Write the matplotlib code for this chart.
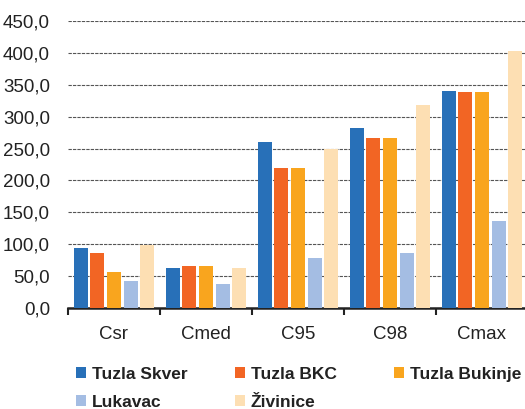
import matplotlib
matplotlib.use('Agg')
import matplotlib.pyplot as plt
import numpy as np

plt.rcParams['font.family'] = ['Liberation Sans', 'DejaVu Sans']

categories = ['Csr', 'Cmed', 'C95', 'C98', 'Cmax']
stations = ['Tuzla Skver', 'Tuzla BKC', 'Tuzla Bukinje', 'Lukavac', 'Živinice']
skver = [94, 63, 260, 283, 341]
bkc = [86, 66, 220, 267, 339]
bukinje = [56, 66, 220, 267, 339]
lukavac = [42, 38, 78, 86, 137]
zivinice = [99, 63, 249, 318, 403]
colors = ['#2870b8', '#f26524', '#f9a51e', '#a4bde3', '#fddfb3']
yticks = np.arange(0, 451, 50)

series = [skver, bkc, bukinje, lukavac, zivinice]

fig = plt.figure(figsize=(5.25, 4.09), dpi=100)
ax = fig.add_axes([68/525, 1-308/409, 460/525, 287/409])

x = np.arange(len(categories))
slot = 0.181
bars = []
for i, (vals, name, c) in enumerate(zip(series, stations, colors)):
    b = ax.bar(x + (i - 2) * slot, vals, width=0.155, color=c, label=name, zorder=3)
    bars.append(b)

ax.set_xlim(-0.5, 4.5)
ax.set_ylim(0, 450)
ax.set_yticks(yticks)
ax.set_yticklabels([f'{v:.1f}'.replace('.', ',') for v in yticks])
ax.yaxis.grid(True, linestyle=(0, (3, 1)), color='#555555', linewidth=0.8, zorder=0)
ax.set_axisbelow(True)

ax.set_xticks(x)
ax.set_xticklabels(categories)
ax.set_xticks(np.arange(-0.5, 5, 1), minor=True)
ax.tick_params(axis='x', which='major', length=0, pad=13, labelsize=13.5, colors='#222222')
ax.tick_params(axis='x', which='minor', length=5, width=1.5, color='#222222')
ax.tick_params(axis='y', length=0, pad=13, labelsize=13.5, colors='#222222')

for s in ['top', 'right', 'left']:
    ax.spines[s].set_visible(False)
ax.spines['bottom'].set_linewidth(1.8)
ax.spines['bottom'].set_color('#222222')

# legend: three columns placed at fixed positions, filled row by row
columns = [[0, 3], [1, 4], [2]]
col_x = [76, 235, 394]
for idx, cx in zip(columns, col_x):
    leg = fig.legend([bars[k] for k in idx], [stations[k] for k in idx],
                     loc='upper left', bbox_to_anchor=(cx/525, 1-367/409),
                     frameon=False, prop={'weight': 'bold', 'size': 12.5},
                     handlelength=0.6, handleheight=0.6, handletextpad=0.3,
                     labelspacing=0.75, borderaxespad=0, borderpad=0)
    for t in leg.get_texts():
        t.set_color('#222222')

fig.savefig('out.png', dpi=100)
